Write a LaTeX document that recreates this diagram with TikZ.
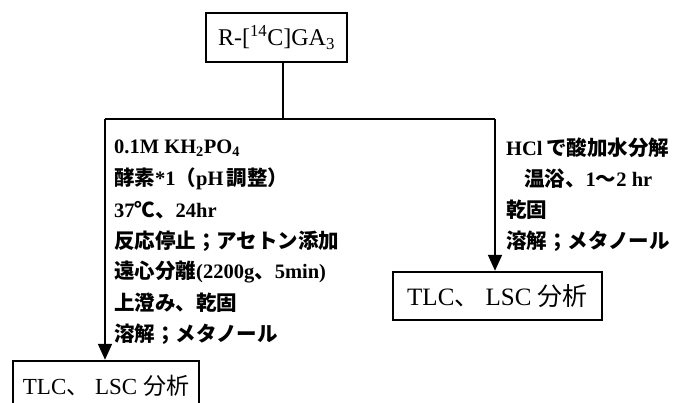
\documentclass[tikz,border=0pt]{standalone}
\usepackage{fontspec}
\setmainfont{Liberation Serif}
\newfontfamily\jp{Noto Sans CJK JP}
\usetikzlibrary{arrows.meta}
\newcommand{\J}[1]{{\jp #1}}
\tikzset{
  box/.style={draw, line width=2.4pt, inner sep=0pt},
  step line/.style={anchor=west, inner sep=0pt, font=\bfseries\fontsize{20.5}{24}\selectfont},
  conn/.style={line width=1.8pt},
  arr/.style={conn, -{Triangle[width=14pt,length=16pt]}}
}
\begin{document}
\begin{tikzpicture}[x=1pt,y=-1pt]
\useasboundingbox (0,0) rectangle (678,402);
\clip (0,0) rectangle (678,402);
% boxes
\node[box, minimum width=141pt, minimum height=49pt, font=\fontsize{24}{28}\selectfont] (top) at (276.5,37.5) {R-[\textsuperscript{14}C]GA\textsubscript{3}};
\node[box, minimum width=209pt, minimum height=48pt, font=\fontsize{25}{29}\selectfont] (rbox) at (497.5,296) {TLC\J{、} LSC \J{分析}};
\node[box, minimum width=186pt, minimum height=50pt, font=\fontsize{23}{27}\selectfont] (lbox) at (106,386) {TLC\J{、} LSC \J{分析}};
% junctions
\coordinate (j) at (283,119);
\coordinate (jl) at (105,119);
\coordinate (jr) at (495,119);
\draw[conn] (top.south -| j) -- (j);
\draw[conn] (jl) -- (jr);
\draw[arr] (jl) -- (lbox.north -| jl);
\draw[arr] (jr) -- (rbox.north -| jr);
% left branch text
\begin{scope}[every node/.append style={step line}]
\node (l1) at (114,148) {0.1M KH\textsubscript{2}PO\textsubscript{4}};
\node (l2) at (114,179) {\J{酵素}*1\J{（}pH\,\J{調整）}};
\node (l3) at (114,210) {37\J{℃、}24hr};
\node (l4) at (114,241) {\J{反応停止；アセトン添加}};
\node (l5) at (114,272) {\J{遠心分離}(2200g\J{、}5min)};
\node (l6) at (114,303) {\J{上澄み、乾固}};
\node (l7) at (114,334) {\J{溶解；メタノール}};
% right branch text
\node (r1) at (506,148) {HCl\,\J{で酸加水分解}};
\node (r2) at (524,179) {\J{温浴、}1\J{〜}2 hr};
\node (r3) at (506,210) {\J{乾固}};
\node (r4) at (506,241) {\J{溶解；メタノール}};
\end{scope}
\end{tikzpicture}
\end{document}
